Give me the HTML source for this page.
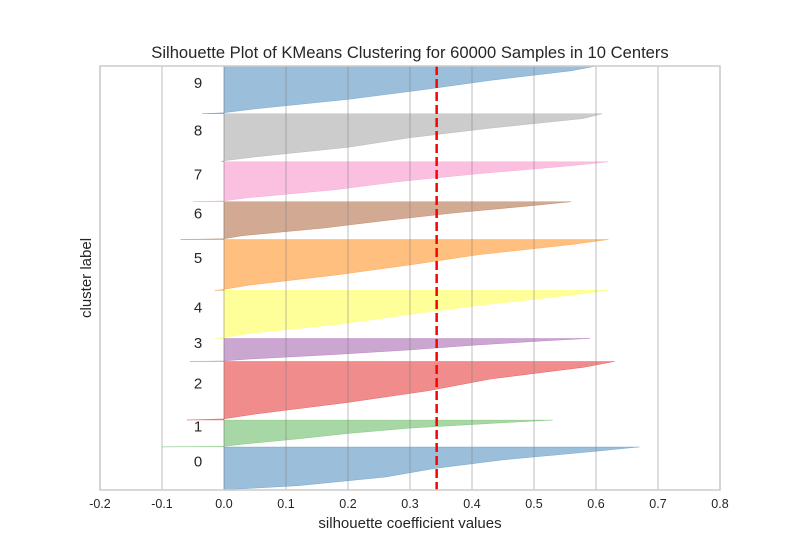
<!DOCTYPE html>
<html><head><meta charset="utf-8"><style>
body{margin:0;background:#fff;}
svg text{font-family:"Liberation Sans",Arial,sans-serif;fill:#262626;}
</style></head><body>
<svg id="chart" width="800" height="550"></svg>
<script>
const clusterLabels=["0","1","2","3","4","5","6","7","8","9"];
const clusterSizes=[6100,3800,8300,3250,6800,7200,5350,5650,6800,6750];
const quantiles=[0,0.02,0.1,0.3,0.5,0.7,0.9,1];
const profile0=[0.0,0.02,0.12,0.26,0.34,0.45,0.6,0.67];
const profile1=[-0.1,0.0,0.03,0.12,0.2,0.3,0.45,0.53];
const profile2=[-0.06,0.0,0.05,0.2,0.33,0.43,0.58,0.63];
const profile3=[-0.055,0.0,0.04,0.18,0.3,0.4,0.52,0.59];
const profile4=[-0.015,0.0,0.04,0.19,0.3,0.42,0.56,0.62];
const profile5=[-0.015,0.0,0.04,0.18,0.3,0.41,0.56,0.62];
const profile6=[-0.07,0.0,0.03,0.16,0.26,0.37,0.5,0.56];
const profile7=[-0.05,0.0,0.04,0.18,0.28,0.41,0.56,0.62];
const profile8=[-0.005,0.0,0.05,0.2,0.3,0.43,0.58,0.61];
const profile9=[-0.035,0.0,0.05,0.2,0.32,0.43,0.56,0.6];
const profiles=[profile0,profile1,profile2,profile3,profile4,profile5,profile6,profile7,profile8,profile9];
const avgScore=0.343;
const xTicks=[-0.2,-0.1,0.0,0.1,0.2,0.3,0.4,0.5,0.6,0.7,0.8];
const colors=["#377eb8","#4daf4a","#e41a1c","#984ea3","#ffff33","#ff7f00","#a65628","#f781bf","#999999","#377eb8"];

const L=100,R=720,T=66,B=490;
const xMin=-0.2,xMax=0.8;
const gap=10, total=clusterSizes.reduce((a,b)=>a+b,0)+gap*clusterSizes.length;
const xs=v=>L+(v-xMin)/(xMax-xMin)*(R-L);
const ys=v=>B-v/total*(B-T);
const svg=document.getElementById('chart');
const NS="http://www.w3.org/2000/svg";
function mk(tag,attrs,parent){const e=document.createElementNS(NS,tag);for(const k in attrs)e.setAttribute(k,attrs[k]);(parent||svg).appendChild(e);return e;}

const clip=mk('clipPath',{id:'clp'});mk('rect',{x:L,y:T,width:R-L,height:B-T},clip);
const fills=mk('g',{'clip-path':'url(#clp)'});


let yl=0;
clusterSizes.forEach((sz,i)=>{
  const p=profiles[i];
  let pts=[[xs(0),ys(yl)]];
  quantiles.forEach((q,j)=>pts.push([xs(p[j]),ys(yl+q*sz)]));
  pts.push([xs(0),ys(yl+sz)]);
  const poly=mk('polygon',{points:pts.map(a=>a.join(',')).join(' '),fill:colors[i],'fill-opacity':0.5,stroke:colors[i],'stroke-opacity':0.5,'stroke-width':0.5},fills);
  
  
  const t=mk('text',{x:198,y:ys(yl+sz/2)-2,'font-size':15,'text-anchor':'middle'});
  t.textContent=clusterLabels[i];
  
  
  yl+=sz+gap;
});
xTicks.forEach(v=>{
  const g=mk('line',{x1:xs(v),x2:xs(v),y1:T,y2:B,stroke:'#808080','stroke-opacity':0.4,'stroke-width':1.3});
  
  
  const t=mk('text',{x:xs(v),y:508,'font-size':12.5,'text-anchor':'middle'});
  t.textContent=v.toFixed(1);
  
  
});
const avg=mk('line',{x1:xs(avgScore),x2:xs(avgScore),y1:T,y2:B,stroke:'#ff0000','stroke-width':2.5,'stroke-dasharray':'9,4'});


const frame=mk('rect',{x:L,y:T,width:R-L,height:B-T,fill:'none',stroke:'#cccccc','stroke-width':1.5});


const title=mk('text',{x:410,y:58,'font-size':16.6,'text-anchor':'middle'});
title.textContent='Silhouette Plot of KMeans Clustering for 60000 Samples in 10 Centers';


const xl=mk('text',{x:410,y:528,'font-size':15,'text-anchor':'middle'});
xl.textContent='silhouette coefficient values';


const yt=mk('text',{x:0,y:0,'font-size':15,'text-anchor':'middle',transform:'translate(91,278) rotate(-90)'});
yt.textContent='cluster label';


</script>
</body></html>
